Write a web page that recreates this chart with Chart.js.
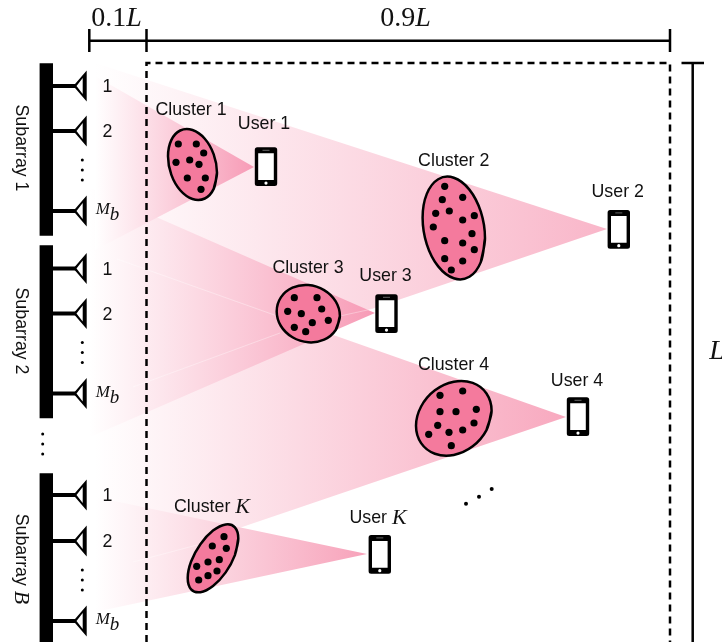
<!DOCTYPE html>
<html>
<head>
<meta charset="utf-8">
<title>Subarray beams</title>
<script src="https://cdn.jsdelivr.net/npm/chart.js@4/dist/chart.umd.min.js"></script>
<style>
body { margin: 0; background: #fff; }
canvas { display: block; }
</style>
</head>
<body>
<canvas id="myChart" width="722" height="642"></canvas>
<script>
// ---------------------------- values (px of the 722x642 figure)
var subarrayNames = ["1", "2", "B"];
var subarrayBars = [[63.3, 235.7], [245.3, 418.3], [473.3, 642]];
var subarrayNameY = [148, 331, 559];
var antennaY = [86, 131, 211, 268.5, 313.5, 393.5, 495, 541, 621];
var antennaLabels = ["1", "2", "Mb", "1", "2", "Mb", "1", "2", "Mb"];

var beam1 = [[95, 76], [254, 167], [95, 250]];
var beam2 = [[95, 63], [607, 229], [95, 403]];
var beam3 = [[90, 188], [375, 313], [90, 437]];
var beam4 = [[95, 251], [566, 417], [95, 577]];
var beamK = [[95, 497], [367, 554], [95, 612]];
var beamSeams = [[[117, 259], [280, 317]], [[133, 387], [280, 333]], [[340, 316], [372, 309]], [[133, 562], [197, 545]]];

var cluster1 = [[217, 172.7], [213.7, 188.9], [204.8, 198.5], [192.5, 199], [180.2, 190.3], [171.3, 174.7],
                [168, 156.3], [171.3, 140.1], [180.2, 130.5], [192.5, 130], [204.8, 138.7], [213.7, 154.3]];
var cluster2 = [[485, 238.3], [480.8, 262.1], [469.4, 276.8], [453.8, 278.3], [438.2, 266.4], [426.8, 244.3],
                [422.6, 217.7], [426.8, 193.9], [438.2, 179.2], [453.8, 177.7], [469.4, 189.6], [480.8, 211.7]];
var cluster3 = [[339.9, 316], [335.7, 330], [324.1, 339.7], [308.3, 342.3], [292.5, 337.3], [280.9, 326],
                [276.7, 311.4], [280.9, 297.4], [292.5, 287.7], [308.3, 285.1], [324.1, 290.1], [335.7, 301.4]];
var cluster4 = [[491.6, 410.8], [486.5, 430.1], [472.7, 446.3], [453.8, 454.9], [434.9, 453.7], [421.1, 443.1],
                [416, 425.8], [421.1, 406.5], [434.9, 390.3], [453.8, 381.7], [472.7, 382.9], [486.5, 393.5]];
var clusterK = [[238.3, 538.6], [234.9, 555.1], [225.7, 572.4], [213, 586], [200.4, 592.2], [191.1, 589.3],
                [187.7, 578], [191.1, 561.5], [200.4, 544.2], [213, 530.6], [225.7, 524.4], [234.9, 527.3]];

var scatterers = [
    [178.3, 144], [196.3, 144], [203.7, 153], [176, 162.3], [189.7, 160], [199, 164.3], [187.3, 178], [205.3, 178], [201, 189.3],
    [444.7, 186.3], [442.3, 199.7], [462.7, 197.3], [435.7, 213.3], [449.3, 211], [474.3, 215.7], [462.7, 220], [433.3, 227],
    [472, 233.7], [444.7, 240.7], [462.7, 243], [474.3, 249.7], [444.7, 258.7], [462.7, 261], [451.3, 270],
    [294.3, 297.7], [317, 297.7], [287.7, 311.3], [301.3, 313.7], [321.7, 309], [312.3, 322.7], [328.3, 320.3], [294.3, 327.3], [305.7, 331.7],
    [440, 395.3], [462.7, 391], [440, 411.7], [456, 411.7], [476.3, 409.3], [437.7, 425.3], [474, 423], [428.7, 434.3], [449, 432.3], [462.7, 430], [451.3, 445.7],
    [224, 536.7], [212.3, 546], [226.3, 548.3], [219.3, 559.7], [208, 562], [196.7, 566.3], [217, 571], [208, 575.7], [198.7, 580]
];

var phoneCenters = [[266, 166.7], [618.8, 229.3], [386.5, 313.7], [578, 416.7], [379.8, 554.3]];
var antennaDots = [[82.3, 160], [82.3, 170], [82.3, 180], [82.3, 342.5], [82.3, 352.5], [82.3, 362.5], [82.3, 570], [82.3, 580], [82.3, 590]];
var subarrayDots = [[42.7, 434], [42.7, 444], [42.7, 454]];
var moreUsersDots = [[466, 503.7], [479, 496.7], [491.7, 489]];

var clusterNames = ["1", "2", "3", "4", "K"];
var clusterLabelPos = [[191, 110.5], [453.7, 161], [308, 268], [453.5, 365.5], [212, 507]];
var userLabelPos = [[264, 124.5], [617.7, 192.5], [385.5, 276.5], [577, 381.5], [378, 518]];

// ---------------------------- colours and fonts
var PINK = "#f47a9d";
var SANS = '17.8px "Liberation Sans"';
var MATH = '"Liberation Serif"';
var SOLID = [1000, 0]; // stops Chart.js from using its fast path, which loses the corners

var datasets = [];
var nextOrder = 1000;

function toPoints(list){
    return list.map(function (p){ return {x: p[0], y: p[1]}; });
}

function addLine(list, opts){
    datasets.push(Object.assign({
        data: toPoints(list), showLine: true, pointRadius: 0, pointHoverRadius: 0,
        borderColor: "#000", borderWidth: 2.5, fill: false, tension: 0,
        borderCapStyle: "butt", borderJoinStyle: "miter", order: nextOrder--
    }, opts));
}

function addDots(list, r, color){
    datasets.push({
        data: toPoints(list), showLine: false, pointRadius: r, pointHoverRadius: r,
        pointBackgroundColor: color, pointBorderWidth: 0, order: nextOrder--
    });
}

// pink mixed with white, beams are opaque so overlaps do not get darker
function beamColor(a){
    return "rgb(" + Math.round(255 - 11 * a) + "," + Math.round(255 - 133 * a) + "," + Math.round(255 - 98 * a) + ")";
}

function addBeam(list, endStrength){
    var apexX = list[1][0];
    var startX = list[0][0];
    addLine(list, {
        borderWidth: 0, fill: "shape",
        backgroundColor: function (c){
            var sx = c.chart.scales.x;
            var x0 = sx ? sx.getPixelForValue(startX) : NaN;
            var x1 = sx ? sx.getPixelForValue(apexX) : NaN;
            // scale has no size yet on the very first pass
            if(!isFinite(x0) || !isFinite(x1)){ return beamColor(0.3); }
            var g = c.chart.ctx.createLinearGradient(x0, 0, x1, 0);
            g.addColorStop(0, beamColor(0));
            g.addColorStop(1, beamColor(endStrength));
            return g;
        }
    });
}

function addCluster(list){
    // repeat the first two points so that the smooth outline closes
    addLine(list.concat([list[0], list[1]]), {
        fill: "shape", backgroundColor: PINK, tension: 0.35, borderJoinStyle: "round"
    });
}

// ---------------------------- beams
addBeam(beam2, 0.55);
addBeam(beam4, 0.65);
addBeam(beam3, 0.75);
addBeam(beam1, 0.75);
addBeam(beamK, 0.7);
beamSeams.forEach(function (s){
    addLine(s, {borderWidth: 1, borderColor: "rgba(255,255,255,0.35)"});
});

// ---------------------------- dashed room outline and the L brackets
addLine([[146.5, 642], [146.5, 63], [670, 63], [670, 642]], {borderDash: [7, 5]});
addLine([[89.3, 40.7], [670, 40.7]]);
[89.3, 146.5, 670].forEach(function (x){
    addLine([[x, 29], [x, 52]]);
});
addLine([[681.5, 63], [704, 63]]);
addLine([[692.7, 63], [692.7, 642]]);

// ---------------------------- subarrays and antennas
subarrayBars.forEach(function (b){
    addLine([[46.3, b[0]], [46.3, b[1]]], {borderWidth: 13.4});
});
antennaY.forEach(function (y){
    addLine([[53, y], [76, y]], {borderWidth: 4});
    addLine([[73.3, y], [86.7, y - 15.5], [86.7, y + 15.5]], {borderWidth: 0, fill: "shape", backgroundColor: "#000"});
    addLine([[76.5, y], [82.7, y - 8], [82.7, y + 8]], {borderWidth: 0, fill: "shape", backgroundColor: "#fff"});
});

// ---------------------------- clusters
[cluster1, cluster2, cluster3, cluster4, clusterK].forEach(addCluster);
addDots(scatterers, 3.6, "#000");

// ---------------------------- phones
phoneCenters.forEach(function (c){
    var x = c[0], y = c[1];
    addLine([[x - 8.7, y - 16.9], [x + 8.7, y - 16.9], [x + 8.7, y + 16.9], [x - 8.7, y + 16.9], [x - 8.7, y - 16.9], [x + 8.7, y - 16.9]], {
        borderWidth: 5, borderJoinStyle: "round", fill: "shape", backgroundColor: "#000", borderDash: SOLID
    });
    addLine([[x - 7.8, y - 13.4], [x + 7.8, y - 13.4], [x + 7.8, y + 13.4], [x - 7.8, y + 13.4]], {
        borderWidth: 0, fill: "shape", backgroundColor: "#fff"
    });
    addLine([[x - 3.5, y - 16.4], [x + 3.5, y - 16.4]], {borderWidth: 1, borderColor: "#666"});
    addDots([[x, y + 16.4]], 1.6, "#fff");
});

addDots(antennaDots, 1.5, "#000");
addDots(subarrayDots, 1.5, "#000");
addDots(moreUsersDots, 2, "#000");

// ---------------------------- text, placed through the scales
function writeRun(ctx, run, x, y){
    // run is a list of [text, font, dy]; x is the centre of the whole run
    var total = 0;
    run.forEach(function (r){ ctx.font = r[1]; total += ctx.measureText(r[0]).width; });
    var cur = x - total / 2;
    run.forEach(function (r){
        ctx.font = r[1];
        ctx.fillText(r[0], cur, y + (r[2] || 0));
        cur += ctx.measureText(r[0]).width;
    });
}

function nameRun(word, name){
    if(name === "K" || name === "B"){
        return [[word + " ", SANS], [name, "italic 22px " + MATH]];
    }
    return [[word + " " + name, SANS]];
}

var textPlugin = {
    id: "figureText",
    afterDatasetsDraw: function (chart){
        var ctx = chart.ctx, sx = chart.scales.x, sy = chart.scales.y;
        function px(v){ return sx.getPixelForValue(v); }
        function py(v){ return sy.getPixelForValue(v); }
        ctx.save();
        ctx.fillStyle = "#111";
        ctx.textBaseline = "middle";
        ctx.textAlign = "left";

        clusterNames.forEach(function (n, i){
            writeRun(ctx, nameRun("Cluster", n), px(clusterLabelPos[i][0]), py(clusterLabelPos[i][1]));
            writeRun(ctx, nameRun("User", n), px(userLabelPos[i][0]), py(userLabelPos[i][1]));
        });

        antennaLabels.forEach(function (t, i){
            if(t === "Mb"){
                writeRun(ctx, [["M", "italic 17px " + MATH, -1], ["b", "italic 19px " + MATH, 4]], px(107.5), py(antennaY[i]));
            }else{
                writeRun(ctx, [[t, SANS]], px(107.5), py(antennaY[i] + 1.5));
            }
        });

        writeRun(ctx, [["0.1", "28px " + MATH], ["L", "italic 28px " + MATH]], px(116.5), py(18.5));
        writeRun(ctx, [["0.9", "28px " + MATH], ["L", "italic 28px " + MATH]], px(405.5), py(18.5));
        writeRun(ctx, [["L", "italic 28px " + MATH]], px(717), py(352));

        subarrayNames.forEach(function (n, i){
            ctx.save();
            ctx.translate(px(20.7), py(subarrayNameY[i]));
            ctx.rotate(Math.PI / 2);
            writeRun(ctx, nameRun("Subarray", n), 0, 0);
            ctx.restore();
        });
        ctx.restore();
    }
};

var myChart = new Chart(document.getElementById("myChart"), {
    type: "scatter",
    data: {datasets: datasets},
    plugins: [textPlugin],
    options: {
        responsive: false,
        animation: false,
        layout: {padding: 0, autoPadding: false},
        plugins: {legend: {display: false}, tooltip: {enabled: false}, title: {display: false}},
        events: [],
        scales: {
            x: {type: "linear", min: 0, max: 722, display: false},
            y: {type: "linear", min: 0, max: 642, reverse: true, display: false}
        }
    }
});
</script>
</body>
</html>
